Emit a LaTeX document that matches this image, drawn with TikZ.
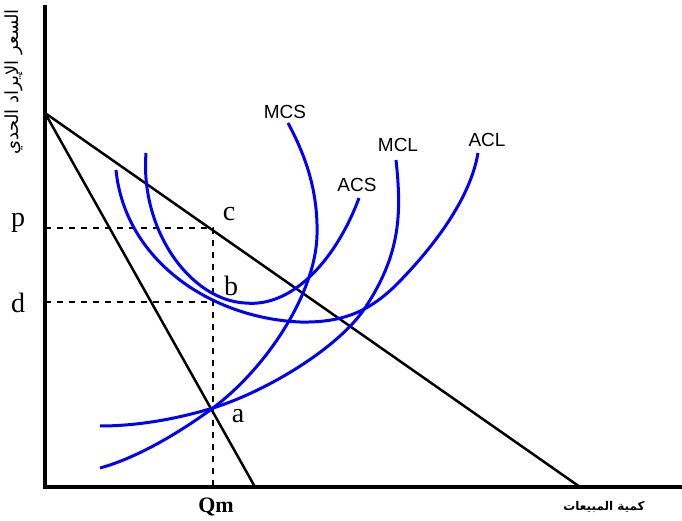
\documentclass[tikz,border=0pt]{standalone}
\usepackage{fontspec}
\setmainfont{Liberation Serif}
\setsansfont{Liberation Sans}
\newfontfamily\arabicfont[Script=Arabic]{DejaVu Sans}
\TeXXeTstate=1
\tikzset{
  axis/.style={line width=4pt},
  revline/.style={line width=2.5pt},
  cost/.style={line width=3pt,blue},
  guide/.style={line width=2.8pt,dash pattern=on 6pt off 6pt},
  curvelab/.style={font=\sffamily\fontsize{19}{21}\selectfont},
  ptlab/.style={font=\fontsize{28}{30}\selectfont}
}
\begin{document}
\begin{tikzpicture}[x=1pt,y=-1pt]
\useasboundingbox (0,0) rectangle (682,521);

\coordinate (O) at (45,487);
\coordinate (top) at (45,5);
\coordinate (xend) at (682,487);
\coordinate (A) at (45,113);
\coordinate (Dend) at (580,487);
\coordinate (MRend) at (255,487);
\coordinate (pp) at (45,228);
\coordinate (dd) at (45,302);
\coordinate (c) at (213,228);
\coordinate (b) at (213,302);
\coordinate (a) at (213,408);
\coordinate (Q) at (213,487);

\draw[axis] (top) -- (45,489);
\draw[axis] (43,487) -- (xend);

\draw[revline] (A) -- (Dend);
\draw[revline] (A) -- (MRend);

\draw[guide] (pp) -- (c) -- (Q);
\draw[guide] (dd) -- (b);

\draw[cost] (116,170) .. controls (125,260) and (210,318) .. (300,322)
  .. controls (345,323) and (372,310) .. (400,281)
  .. controls (432,248) and (470,200) .. (478,153);
\draw[cost] (146,153) .. controls (140,230) and (190,300) .. (245,303)
  .. controls (295,308) and (338,255) .. (359,198);
\draw[cost] (288,123) .. controls (308,160) and (318,195) .. (317,235)
  .. controls (316,290) and (270,365) .. (a)
  .. controls (183,430) and (140,457) .. (100,468);
\draw[cost] (396,160) .. controls (402,215) and (400,255) .. (365,308)
  .. controls (340,346) and (270,390) .. (a)
  .. controls (180,418) and (140,426) .. (100,426);

\node[curvelab] (mcs) at (285,112) {MCS};
\node[curvelab] (acs) at (357,185) {ACS};
\node[curvelab] (mcl) at (398,145) {MCL};
\node[curvelab] (acl) at (487,140) {ACL};

\node[ptlab] (plab) at (18,223) {p};
\node[ptlab] (dlab) at (18,303) {d};
\node[ptlab] (clab) at (229,214) {c};
\node[ptlab] (blab) at (231,286) {b};
\node[ptlab] (alab) at (238,416) {a};
\node[font=\bfseries\fontsize{22}{24}\selectfont] (qm) at (216,507) {Qm};

\node[rotate=90] (ylab) at (14,82) {\arabicfont\fontsize{18}{20}\selectfont\beginR السعر الإيراد الحدي\endR};
\node (xlab) at (604,507) {\arabicfont\bfseries\fontsize{12}{14}\selectfont\beginR كمية المبيعات\endR};
\end{tikzpicture}
\end{document}
